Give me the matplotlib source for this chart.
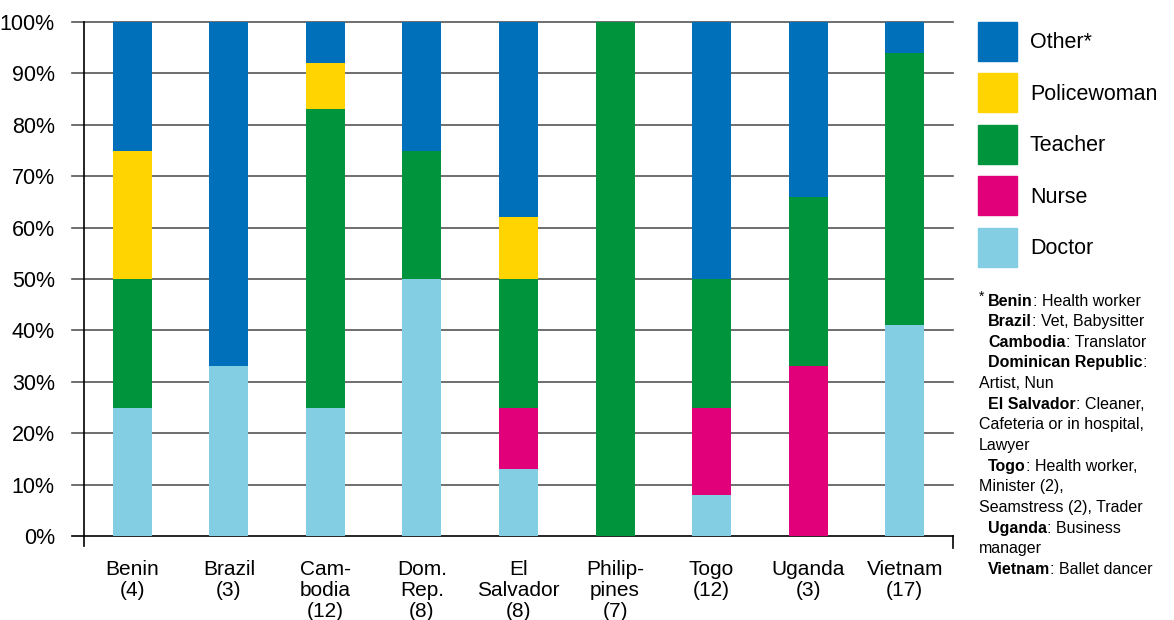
import matplotlib
matplotlib.use('Agg')
import matplotlib.pyplot as plt
from matplotlib.patches import Patch
import numpy as np

plt.rcParams['font.family'] = ['Liberation Sans', 'DejaVu Sans']

# Share of girls naming each dream job, per country (percent).
countries = ['Benin\n(4)', 'Brazil\n(3)', 'Cam-\nbodia\n(12)', 'Dom.\nRep.\n(8)', 'El\nSalvador\n(8)',
             'Philip-\npines\n(7)', 'Togo\n(12)', 'Uganda\n(3)', 'Vietnam\n(17)']
doctor = [25, 33, 25, 50, 13, 0, 8, 0, 41]
nurse = [0, 0, 0, 0, 12, 0, 17, 33, 0]
teacher = [25, 0, 58, 25, 25, 100, 25, 33, 53]
policewoman = [25, 0, 9, 0, 12, 0, 0, 0, 0]
other = [25, 67, 8, 25, 38, 0, 50, 34, 6]

series_names = ['Doctor', 'Nurse', 'Teacher', 'Policewoman', 'Other*']
series_values = [doctor, nurse, teacher, policewoman, other]
series_colors = ['#84cee3', '#e2007a', '#00943d', '#ffd400', '#0070ba']

yticks = [0, 10, 20, 30, 40, 50, 60, 70, 80, 90, 100]

footnote = [
    ('Benin', ': Health worker'),
    ('Brazil', ': Vet, Babysitter'),
    ('Cambodia', ': Translator'),
    ('Dominican Republic', ':'),
    (None, 'Artist, Nun'),
    ('El Salvador', ': Cleaner,'),
    (None, 'Cafeteria or in hospital,'),
    (None, 'Lawyer'),
    ('Togo', ': Health worker,'),
    (None, 'Minister (2),'),
    (None, 'Seamstress (2), Trader'),
    ('Uganda', ': Business'),
    (None, 'manager'),
    ('Vietnam', ': Ballet dancer'),
]

W, H = 1174, 620
fig = plt.figure(figsize=[W / 100, H / 100], dpi=100)
ax = fig.add_axes([84 / W, 1 - 536 / H, (953 - 84) / W, (536 - 22) / H])

x = np.arange(len(countries))
bottom = np.zeros(len(countries))
for name, vals, color in zip(series_names, series_values, series_colors):
    ax.bar(x, vals, width=0.404, bottom=bottom, color=color, label=name, zorder=2)
    bottom += np.array(vals)

ax.set_xlim(-0.5, len(countries) - 0.5)
ax.set_ylim(0, 100)

# gridlines incl. the little outward tick on the left
for t in yticks:
    col = 'black' if t == 0 else '#555555'
    ax.plot([-0.624, len(countries) - 0.5], [t, t], color=col, lw=1.2, zorder=1, clip_on=False)
ax.plot([-0.5, -0.5], [-1.95, 100], color='black', lw=1.2, clip_on=False, zorder=3)
ax.plot([len(countries) - 0.5] * 2, [-2.3, 0], color='black', lw=1.2, clip_on=False, zorder=3)

for s in ax.spines.values():
    s.set_visible(False)

ax.set_yticks(yticks)
ax.set_yticklabels([f'{t}%' for t in yticks], fontsize=15.5)
ax.tick_params(axis='y', length=0, pad=21)
ax.set_xticks(x)
ax.set_xticklabels(countries, fontsize=15, linespacing=1.15)
ax.tick_params(axis='x', length=0, pad=17)

handles = [Patch(color=c, label=n) for n, c in zip(series_names, series_colors)][::-1]
fig.legend(handles=handles, loc='upper left', bbox_to_anchor=(978 / W, 1 - 22 / H), frameon=False,
           fontsize=15.5, handlelength=1.81, handleheight=2.41, labelspacing=0.58,
           handletextpad=0.6, borderpad=0, borderaxespad=0)

# footnote with bold country names
fig.text(979 / W, 1 - 297 / H, '*', fontsize=10, ha='left', va='center')
for i, (bold, rest) in enumerate(footnote):
    yy = 1 - (301 + i * 20.65) / H
    if bold is None:
        fig.text(979 / W, yy, rest, fontsize=11.5, ha='left', va='center')
    else:
        b = fig.text(988 / W, yy, bold, fontsize=11.5, fontweight='bold', ha='left', va='center')
        ax.annotate(rest, xy=(1, 0), xycoords=b, fontsize=11.5, ha='left', va='bottom',
                    annotation_clip=False)

fig.savefig('out.png', dpi=100)
